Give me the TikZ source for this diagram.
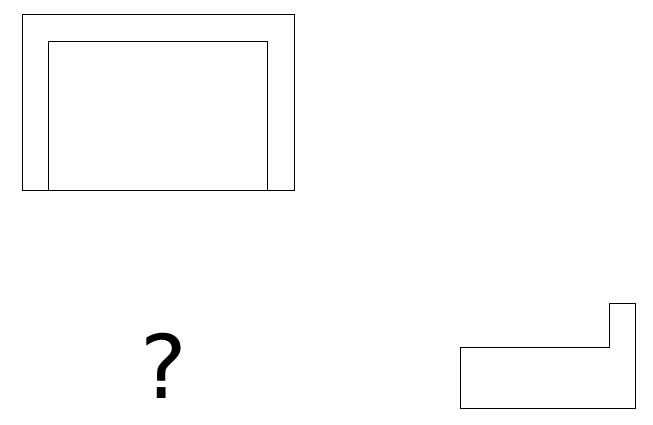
\documentclass[tikz,border=0pt]{standalone}
\usepackage{fontspec}
\newfontfamily\qfont{DejaVu Sans}
\usetikzlibrary{positioning}
\begin{document}
\begin{tikzpicture}[x=1pt,y=-1pt]
                    \tikzstyle{outline}=[black, line width=0.9pt]
                    \useasboundingbox (0,0) rectangle (653,425);
                    \draw [outline] (22,190) -- (22,14) -- (294,14) -- (294,190) -- cycle;
                    \draw [outline] (48,190) -- (48,41) -- (267.5,41) -- (267.5,190);
                    \node (quest) at (163.5,366) [inner sep=0pt] {\qfont\fontsize{88}{88}\selectfont ?};
                    \draw [outline] (460.5,408.5) -- (460.5,347.7) -- (609.7,347.7) -- (609.7,303.5) -- (635.7,303.5) -- (635.7,408.5) -- cycle;
                \end{tikzpicture}
\end{document}
